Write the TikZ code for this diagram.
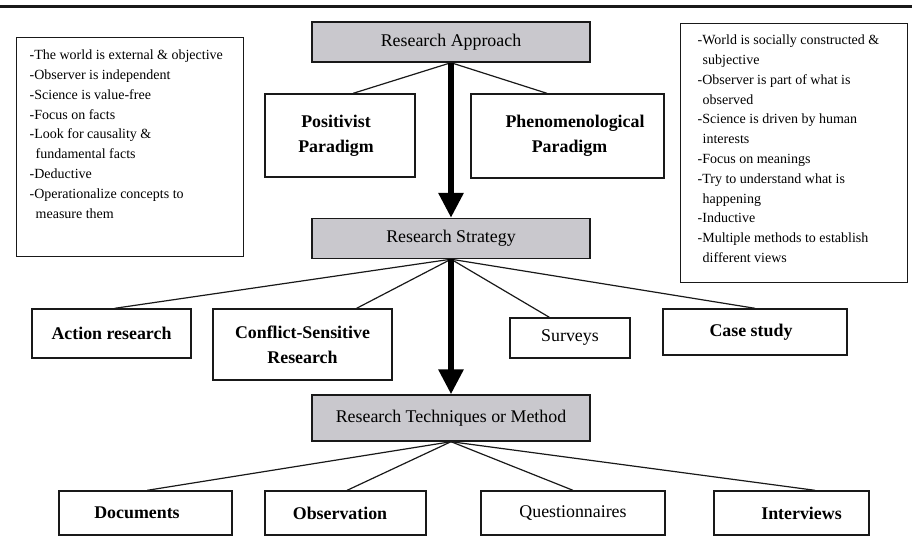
\documentclass[tikz,border=0pt]{standalone}
\usepackage{fontspec}
\setmainfont{Liberation Serif}
\usetikzlibrary{arrows.meta,calc}
\definecolor{boxgray}{RGB}{201,200,205}
\definecolor{ink}{RGB}{25,25,25}
\begin{document}
\begin{tikzpicture}[x=0.75pt,y=-0.75pt,
  wh/.style 2 args={minimum width=#1*0.75pt, minimum height=#2*0.75pt},
  box/.style={draw=ink, line width=1.05pt, inner sep=0pt, align=center,
    font=\fontsize{13.4}{18.75}\selectfont},
  graybox/.style={box, fill=boxgray},
  bbox/.style={box, font=\fontsize{13.4}{18.75}\selectfont\bfseries},
  link/.style={draw=ink, line width=0.9pt},
  bigarrow/.style={draw=black, line width=4.5pt, -{Triangle[length=18.75pt,width=18pt]}},
  notebox/.style={draw=ink, line width=1.05pt, inner sep=0pt, anchor=north west,
    font=\fontsize{10.5}{14.85}\selectfont}]
\useasboundingbox (0,0) rectangle (912,536);
\draw[ink, line width=2.25pt] (0,6.5) -- (912,6.5);

% note boxes
\node[notebox] (lnote) at (16,37) {\begin{minipage}[c][164.25pt][t]{170.25pt}\raggedright\leftskip=9.75pt\parindent=0pt
\rule{0pt}{16.5pt}-The world is external \& objective\\
-Observer is independent\\
-Science is value-free\\
-Focus on facts\\
-Look for causality \&\\
\hspace*{4.5pt}fundamental facts\\
-Deductive\\
-Operationalize concepts to\\
\hspace*{4.5pt}measure them
\end{minipage}};

\node[notebox] (rnote) at (680,23) {\begin{minipage}[c][194.25pt][t]{170.25pt}\raggedright\leftskip=12.75pt\parindent=0pt
\rule{0pt}{15.75pt}-World is socially constructed \&\\
\hspace*{3.75pt}subjective\\
-Observer is part of what is\\
\hspace*{3.75pt}observed\\
-Science is driven by human\\
\hspace*{3.75pt}interests\\
-Focus on meanings\\
-Try to understand what is\\
\hspace*{3.75pt}happening\\
-Inductive\\
-Multiple methods to establish\\
\hspace*{3.75pt}different views
\end{minipage}};

% main boxes
\node[graybox, wh={278}{40}] (ra) at (451,42) {Research Approach};
\node[graybox, wh={278}{40}] (rs) at (451,238.5) {Research Strategy};
\node[graybox, wh={278}{46}] (rtm) at (451,418) {Research Techniques or Method};

\node[bbox, wh={150}{83}] (pos) at (340,135.5) {Positivist\rule{6pt}{0pt}\\Paradigm\rule{6pt}{0pt}};
\node[bbox, wh={193}{84}] (phen) at (567.5,136) {\rule{11.25pt}{0pt}Phenomenological\\\rule{3pt}{0pt}Paradigm};

\node[bbox, wh={159}{49}] (act) at (111.5,333.5) {Action research};
\node[bbox, wh={179}{71}] (csr) at (302.5,344.5) {Conflict-Sensitive\\Research};
\node[box, wh={120}{40}] (sur) at (570,338) {Surveys};
\node[bbox, wh={184}{46}] (case) at (755,332) {Case study\rule{6pt}{0pt}};

\node[bbox, wh={173}{44}] (doc) at (145.5,513) {Documents\rule{12.75pt}{0pt}};
\node[bbox, wh={161}{44}] (obs) at (345.5,513) {Observation\rule{8.25pt}{0pt}};
\node[box, wh={184}{44}] (que) at (573,513) {Questionnaires};
\node[bbox, wh={155}{44}] (int) at (791.5,513) {\rule{15pt}{0pt}Interviews};

% connectors
\draw[link] (ra.south) -- ($(pos.north west)!0.587!(pos.north east)$);
\draw[link] (ra.south) -- ($(phen.north west)!0.394!(phen.north east)$);

\draw[link] (rs.south) -- ($(act.north west)!0.52!(act.north east)$);
\draw[link] (rs.south) -- ($(csr.north west)!0.80!(csr.north east)$);
\draw[link] (rs.south) -- ($(sur.north west)!0.33!(sur.north east)$);
\draw[link] (rs.south) -- ($(case.north west)!0.5!(case.north east)$);

\draw[link] (rtm.south) -- ($(doc.north west)!0.51!(doc.north east)$);
\draw[link] (rtm.south) -- ($(obs.north west)!0.51!(obs.north east)$);
\draw[link] (rtm.south) -- ($(que.north west)!0.5!(que.north east)$);
\draw[link] (rtm.south) -- ($(int.north west)!0.65!(int.north east)$);

% thick arrows
\draw[bigarrow] (ra.south) -- (rs.north);
\draw[bigarrow] (rs.south) -- (rtm.north);
\end{tikzpicture}
\end{document}
